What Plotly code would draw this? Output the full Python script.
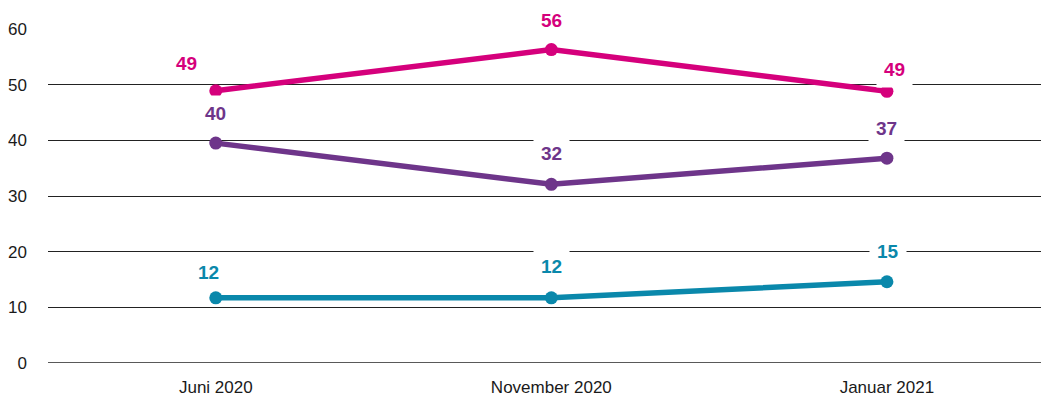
import plotly.graph_objects as go

categories = ["Juni 2020", "November 2020", "Januar 2021"]
pink_values = [48.9, 56.3, 48.8]
purple_values = [39.5, 32.1, 36.8]
teal_values = [11.7, 11.7, 14.6]
pink_labels = ["49", "56", "49"]
purple_labels = ["40", "32", "37"]
teal_labels = ["12", "12", "15"]
y_ticks = [0, 10, 20, 30, 40, 50, 60]

PINK = "#d5007c"
PURPLE = "#6e358a"
TEAL = "#0a88ab"
FONT = "Liberation Sans Narrow, Arial Narrow, Liberation Sans, Arial, sans-serif"

fig = go.Figure()
series = [
    (pink_values, pink_labels, PINK, [(-29, 27), (0, 29), (8, 22)]),
    (purple_values, purple_labels, PURPLE, [(0, 30), (0, 31), (0, 30)]),
    (teal_values, teal_labels, TEAL, [(-7, 25), (0, 31), (1, 30)]),
]
xs = list(range(len(categories)))
for vals, labels, color, offs in series:
    fig.add_trace(go.Scatter(
        x=xs, y=vals, mode="lines+markers",
        line=dict(color=color, width=5.5),
        marker=dict(color=color, size=13),
        showlegend=False, hoverinfo="skip",
    ))
    for i, (v, lab) in enumerate(zip(vals, labels)):
        fig.add_annotation(
            x=xs[i], y=v, xref="x", yref="y", text=f"<b>{lab}</b>",
            showarrow=False, xshift=offs[i][0], yshift=offs[i][1],
            font=dict(family=FONT, size=19, color=color),
            bgcolor="white", borderpad=7,
        )

fig.update_layout(
    width=1041, height=397,
    margin=dict(l=40, r=0, t=21, b=42, autoexpand=False),
    paper_bgcolor="white", plot_bgcolor="white",
    font=dict(family=FONT, size=17, color="#1a1a1a"),
    xaxis=dict(
        range=[-0.5, 2.483], tickmode="array", tickvals=xs, ticktext=categories,
        showgrid=False, zeroline=False, showline=False, ticks="", ticklabelstandoff=12,
        automargin=False,
        tickfont=dict(family=FONT, size=17, color="#1a1a1a"),
    ),
    yaxis=dict(
        range=[0, 60], tickmode="array", tickvals=y_ticks,
        showgrid=True, gridcolor="#222222", gridwidth=1.3,
        zeroline=False, showline=False, ticks="", ticklabelstandoff=20,
        automargin=False,
        tickfont=dict(family=FONT, size=17, color="#1a1a1a"),
    ),
)
fig.add_hline(y=0, line=dict(color="#222222", width=1.3), layer="below")

fig.write_html("out.html")
